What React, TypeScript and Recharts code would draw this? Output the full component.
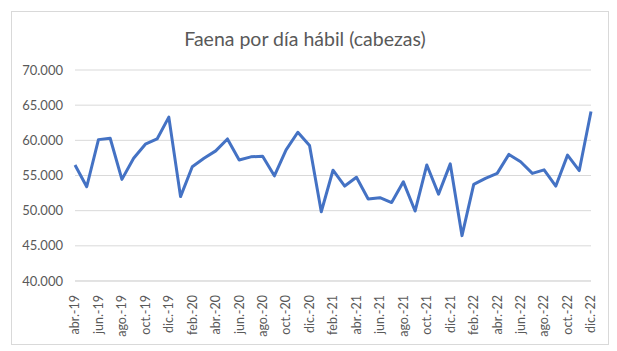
import { CartesianGrid, Line, LineChart, XAxis, YAxis } from 'recharts'

const monthNames = ['ene.', 'feb.', 'mar.', 'abr.', 'may.', 'jun.', 'jul.', 'ago.', 'sep.', 'oct.', 'nov.', 'dic.']

// abr.-19 .. dic.-22
const months: string[] = []
for (let y = 19; y <= 22; y++) {
  for (let m = 0; m < 12; m++) {
    if (y === 19 && m < 3) continue
    months.push(monthNames[m] + '-' + y)
  }
}

const faena = [
  56500, 53400, 60100, 60300, 54450, 57450, 59450, 60200, 63300,
  52000, 56250, 57450, 58500, 60200, 57200, 57650, 57750, 54950, 58650, 61150, 59250,
  49850, 55750, 53500, 54750, 51650, 51850, 51150, 54100, 49950, 56500, 52350, 56650,
  46450, 53750, 54600, 55300, 58000, 56950, 55300, 55800, 53500, 57900, 55700, 64100,
]

const yTicks = [40000, 45000, 50000, 55000, 60000, 65000, 70000]

const data = months.map((month, i) => ({ month, value: faena[i] }))

const FONT = 'Lato, "Open Sans", sans-serif'
const TEXT = '#595959'

function fmt(n: number) {
  return String(n).replace(/\B(?=(\d{3})+(?!\d))/g, '.')
}

function MonthTick(props: any) {
  const { x, y, payload } = props
  return (
    <text
      x={x}
      y={y + 6}
      transform={`rotate(-90, ${x}, ${y + 6})`}
      textAnchor="end"
      dy="0.35em"
      fontSize={12.5}
      fill={TEXT}
      fontFamily={FONT}
    >
      {payload.value}
    </text>
  )
}

export default function App() {
  return (
    <div style={{ position: 'absolute', left: 0, top: 0, width: 617, height: 351, background: '#fff' }}>
      <div
        style={{
          position: 'absolute',
          left: 11,
          top: 11,
          width: 598,
          height: 334,
          border: '1px solid #D9D9D9',
          boxSizing: 'border-box',
        }}
      />
      <div
        style={{
          position: 'absolute',
          left: 0,
          top: 27,
          width: 610,
          textAlign: 'center',
          fontFamily: FONT,
          fontSize: 19.5,
          color: TEXT,
        }}
      >
        Faena por día hábil (cabezas)
      </div>
      <div style={{ position: 'absolute', left: 0, top: 0 }}>
        <LineChart width={617} height={351} data={data} margin={{ top: 70, right: 26, bottom: 8, left: 0 }}>
          <CartesianGrid vertical={false} stroke="#D9D9D9" />
          <XAxis
            dataKey="month"
            interval={1}
            tick={<MonthTick />}
            axisLine={{ stroke: '#D9D9D9' }}
            tickLine={false}
            height={62}
          />
          <YAxis
            domain={[40000, 70000]}
            ticks={yTicks}
            tickFormatter={fmt}
            tick={{ fontSize: 13, fill: TEXT, fontFamily: FONT }}
            axisLine={false}
            tickLine={false}
            tickMargin={6}
            width={75}
          />
          <Line
            dataKey="value"
            stroke="#4472C4"
            strokeWidth={3}
            dot={false}
            isAnimationActive={false}
            strokeLinejoin="round"
          />
        </LineChart>
      </div>
    </div>
  )
}
